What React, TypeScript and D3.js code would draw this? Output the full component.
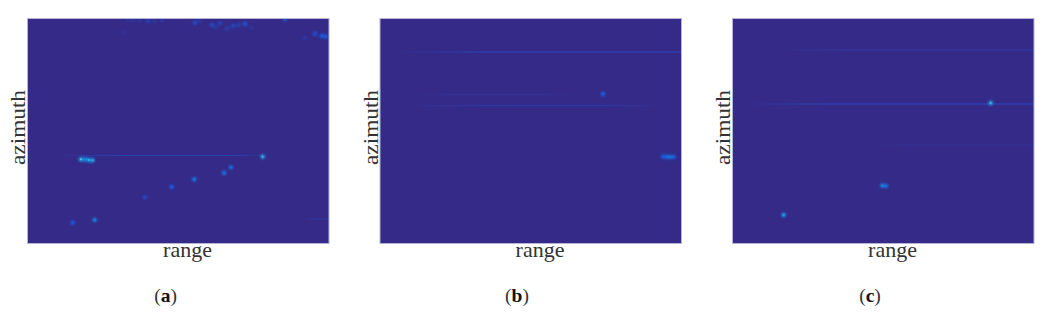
import React from 'react'
import * as d3 from 'd3'

const WIDTH = 1052
const HEIGHT = 318

// [range, azimuth, intensity]
type Spot = [number, number, number]
// [azimuth, rangeStart, rangeEnd, intensity]
type Streak = [number, number, number, number]

const spotsA: Spot[] = [
  [53.5, 140.8, 0.8], [56, 141, 0.55], [58.5, 141, 0.55], [61.5, 141.5, 0.75], [63.2, 141.7, 0.5], [65, 141.8, 0.7],
  [235.2, 138.2, 0.75], [203.5, 148.8, 0.42], [196.5, 154.5, 0.45], [166.8, 160.8, 0.48],
  [144.2, 168.5, 0.32], [117.5, 178.8, 0.22], [67.2, 201.5, 0.52], [45.2, 204.2, 0.3],
  [100, 0.8, 0.08], [105.5, 1.5, 0.1], [112, 2, 0.09], [120.5, 2.2, 0.18], [127, 2.5, 0.1], [134.5, 1.5, 0.12],
  [167.5, 4.2, 0.22], [172, 2.5, 0.1], [184.5, 6.5, 0.22], [188, 8.5, 0.12], [192.5, 4.8, 0.18], [199.5, 10.5, 0.14],
  [205.5, 7.5, 0.2], [211, 6.5, 0.18], [217.5, 5.5, 0.28], [224, 9, 0.08], [257.5, 0.8, 0.28],
  [294.5, 17.5, 0.34], [287.5, 15.5, 0.26], [298.5, 18, 0.3], [277.5, 19.2, 0.1], [97.5, 14.2, 0.05],
]
const streaksA: Streak[] = [
  [137, 25, 250, 0.12],
  [200.5, 278, 302, 0.06],
]

const spotsB: Spot[] = [
  [223, 75.5, 0.36], [283, 138.2, 0.3], [286, 138.3, 0.38], [289, 138.3, 0.48], [292, 138.4, 0.46], [294, 138.5, 0.3],
]
const streaksB: Streak[] = [
  [33.5, 10, 302, 0.13],
  [87.2, 25, 280, 0.1],
  [76, 20, 200, 0.04],
]

const spotsC: Spot[] = [
  [258.2, 84.5, 0.75], [150, 167.2, 0.55], [153.5, 167.4, 0.45], [51.2, 196.5, 0.66],
]
const streaksC: Streak[] = [
  [85.5, 10, 302, 0.15],
  [31.5, 40, 302, 0.08],
  [126.5, 125, 302, 0.035],
]

const panelLefts = [27.5, 380, 732.5]
const panelSpots = [spotsA, spotsB, spotsC]
const panelStreaks = [streaksA, streaksB, streaksC]
const panelTags = ['a', 'b', 'c']
const tagCenters = [165.5, 517, 870]

const PANEL_W = 301.5
const PANEL_H = 225
const PANEL_TOP = 18.5

const parula = d3
  .scaleLinear<string>()
  .domain([0, 0.25, 0.5, 0.75, 1])
  .range(['#352a87', '#1f55d8', '#1486dc', '#3cb4d8', '#a8e8e0'])
  .clamp(true)

const Panel = ({ index }: { index: number }) => {
  const left = panelLefts[index]
  const x = d3.scaleLinear().domain([0, 301.5]).range([left, left + PANEL_W])
  const y = d3.scaleLinear().domain([0, 225]).range([PANEL_TOP, PANEL_TOP + PANEL_H])
  const brightSpots = panelSpots[index].filter(s => s[2] >= 0.3)
  return (
    <g>
      <clipPath id={`clip-${index}`}>
        <rect x={left} y={PANEL_TOP} width={PANEL_W} height={PANEL_H} />
      </clipPath>
      <defs>
        {panelStreaks[index].map((s, i) => (
          <linearGradient
            key={i}
            id={`fade-${index}-${i}`}
            gradientUnits="userSpaceOnUse"
            x1={x(s[1])}
            x2={x(s[2])}
            y1={0}
            y2={0}
          >
            <stop offset="0" stopColor={parula(s[3])} stopOpacity={0} />
            <stop offset="0.3" stopColor={parula(s[3])} stopOpacity={1} />
            <stop offset="0.8" stopColor={parula(s[3])} stopOpacity={1} />
            <stop offset="1" stopColor={parula(s[3])} stopOpacity={s[2] >= 301 ? 1 : 0} />
          </linearGradient>
        ))}
      </defs>
      <rect x={left} y={PANEL_TOP} width={PANEL_W} height={PANEL_H} fill={parula(0)} />
      <g clipPath={`url(#clip-${index})`}>
        {panelStreaks[index].map((s, i) => (
          <rect
            key={i}
            x={x(s[1])}
            width={x(s[2]) - x(s[1])}
            y={y(s[0]) - 0.6}
            height={1.2}
            fill={`url(#fade-${index}-${i})`}
          />
        ))}
        <g filter="url(#soft)">
          {panelSpots[index].map((s, i) => (
            <circle key={i} cx={x(s[0])} cy={y(s[1])} r={2.4} fill={parula(s[2] * 0.8)} />
          ))}
        </g>
        <g filter="url(#core)">
          {brightSpots.map((s, i) => (
            <circle key={i} cx={x(s[0])} cy={y(s[1])} r={0.5 + s[2] * 0.7} fill={parula(s[2])} />
          ))}
        </g>
      </g>
      <rect
        x={left}
        y={PANEL_TOP}
        width={PANEL_W}
        height={PANEL_H}
        fill="none"
        stroke="#b4b4d4"
        strokeWidth={1}
      />
      <text x={left + 160} y={257} textAnchor="middle" fontSize={22} fill="#333">
        range
      </text>
      <text
        transform={`translate(${left - 2.5},${127.5}) rotate(-90)`}
        textAnchor="middle"
        fontSize={22}
        textLength={75}
        lengthAdjust="spacingAndGlyphs"
        fill="#333"
      >
        azimuth
      </text>
      <text x={tagCenters[index]} y={302} textAnchor="middle" fontSize={19.5} fill="#333">
        (<tspan fontWeight="bold" fill="#111">{panelTags[index]}</tspan>)
      </text>
    </g>
  )
}

const App = () => {
  return (
    <svg
      width={WIDTH}
      height={HEIGHT}
      style={{ position: 'absolute', left: 0, top: 0, fontFamily: '"Liberation Serif", serif' }}
    >
      <defs>
        <filter id="soft" x="-20%" y="-20%" width="140%" height="140%">
          <feGaussianBlur stdDeviation={1.2} />
        </filter>
        <filter id="core" x="-20%" y="-20%" width="140%" height="140%">
          <feGaussianBlur stdDeviation={0.7} />
        </filter>
      </defs>
      {panelLefts.map((_, i) => (
        <Panel key={i} index={i} />
      ))}
    </svg>
  )
}

export default App
